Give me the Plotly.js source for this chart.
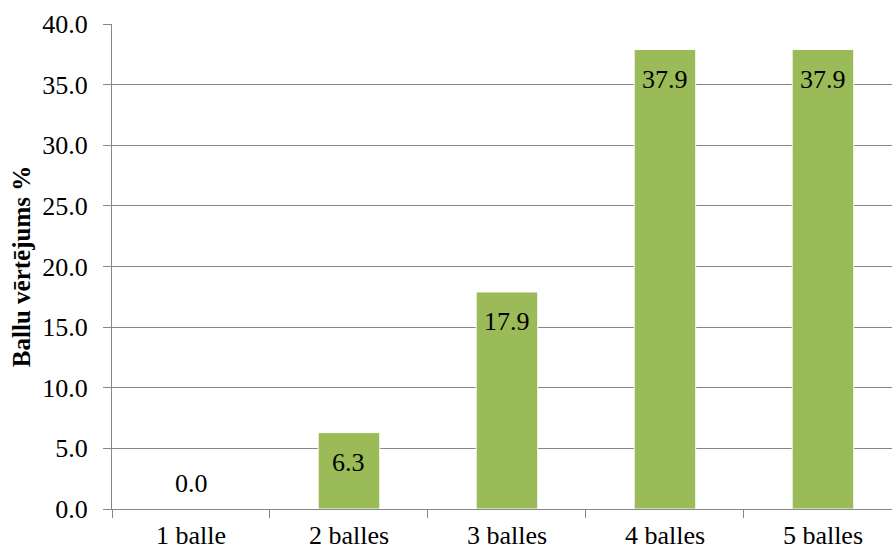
<!DOCTYPE html>
<html>
<head>
<meta charset="utf-8">
<script src="https://cdn.plot.ly/plotly-3.0.1.min.js"></script>
<style>html,body{margin:0;padding:0;background:#fff;}#chart{width:892px;height:550px;}</style>
</head>
<body>
<div id="chart"></div>
<script>
var categories = ["1 balle", "2 balles", "3 balles", "4 balles", "5 balles"];
var values = [0.0, 6.3, 17.9, 37.9, 37.9];
var yTickVals = [0, 5, 10, 15, 20, 25, 30, 35, 40];
var yTitle = "Ballu vērtējums %";

var font = "Liberation Serif, Times New Roman, serif";
var gray = "#868686";

var trace = {
  type: "bar",
  x: categories,
  y: values,
  width: 0.39,
  marker: {color: "#9BBB59", line: {color: "#ffffff", width: 1}},
  hoverinfo: "skip"
};

var annotations = categories.map(function (c, i) {
  var v = values[i];
  return {
    x: c, y: v, xref: "x", yref: "y",
    text: v.toFixed(1),
    showarrow: false,
    yshift: v === 0 ? 26 : -30,
    font: {family: font, size: 26, color: "#000"}
  };
});

var layout = {
  width: 892, height: 550,
  margin: {l: 112, r: 0, t: 24, b: 41},
  paper_bgcolor: "#fff", plot_bgcolor: "#fff",
  showlegend: false,
  font: {family: font, size: 26, color: "#000"},
  xaxis: {
    type: "category",
    range: [-0.5, 4.437],
    showline: true, linecolor: gray, linewidth: 1,
    ticks: "outside", tickson: "boundaries", ticklen: 8, tickcolor: gray,
    ticklabelstandoff: 3,
    showgrid: false, zeroline: false,
    tickfont: {family: font, size: 26, color: "#000"}
  },
  yaxis: {
    range: [0, 40],
    tickvals: yTickVals,
    tickformat: ".1f",
    showline: true, linecolor: gray, linewidth: 1,
    ticks: "outside", ticklen: 8, tickcolor: gray,
    ticklabelstandoff: 10,
    showgrid: true, gridcolor: gray, gridwidth: 1,
    zeroline: false,
    tickfont: {family: font, size: 26, color: "#000"},
    title: {text: "<b>" + yTitle + "</b>", font: {family: font, size: 25, color: "#000"}, standoff: 4}
  },
  annotations: annotations
};

Plotly.newPlot("chart", [trace], layout, {displayModeBar: false, staticPlot: true});
</script>
</body>
</html>
